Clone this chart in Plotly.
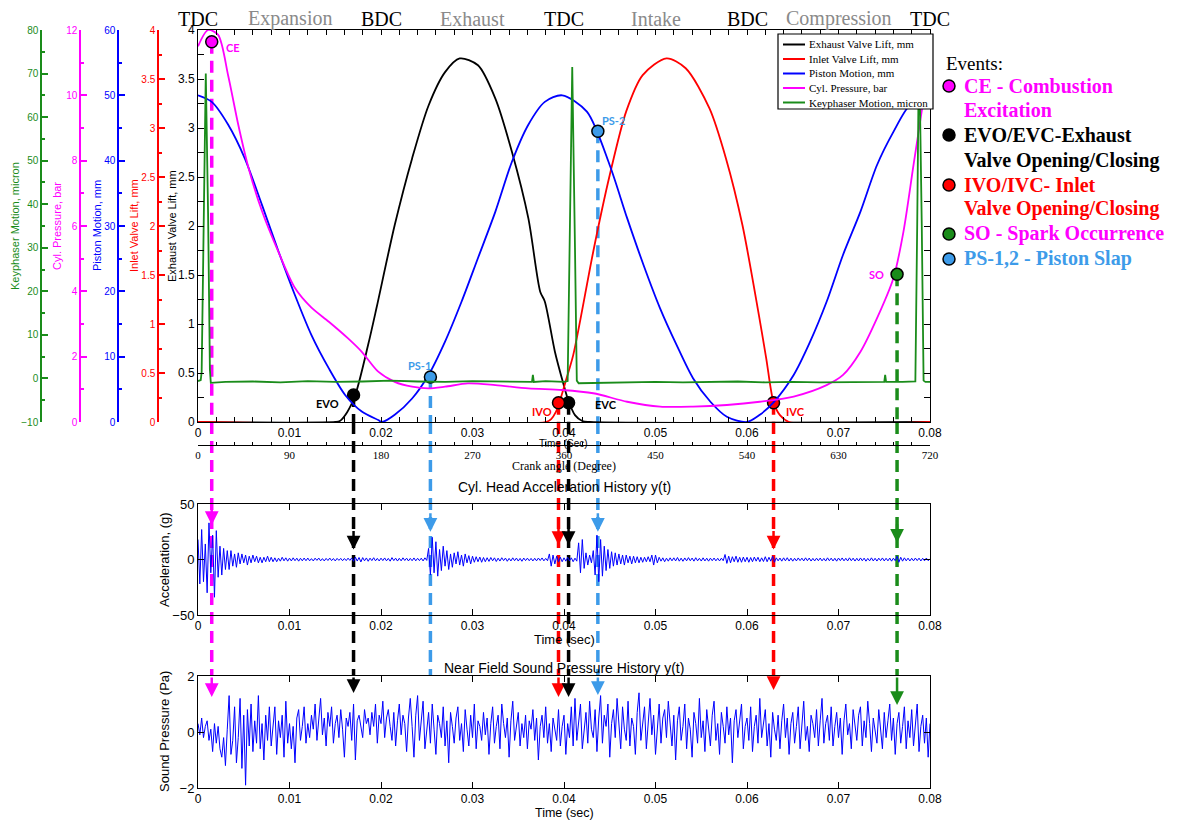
import plotly.graph_objects as go

# ---------------------------------------------------------------- data
# Exhaust valve lift (mm) vs time (s)
exh_t = [0, 0.0150, 0.0155, 0.0163, 0.0172, 0.0186, 0.0195, 0.0215, 0.0234, 0.0252, 0.0270,
         0.0286, 0.0306, 0.0325, 0.0343, 0.0361, 0.0374, 0.0379, 0.0390, 0.0399, 0.0404,
         0.0412, 0.0420, 0.0428, 0.0800]
exh_v = [0, 0, 0.01, 0.10, 0.28, 0.79, 1.16, 2.01, 2.69, 3.23, 3.57,
         3.71, 3.64, 3.30, 2.76, 2.08, 1.33, 1.23, 0.72, 0.40, 0.24,
         0.07, 0.01, 0, 0]

# Inlet valve lift (mm)
inl_t = [0, 0.0380, 0.0386, 0.0391, 0.0395, 0.0402, 0.0410, 0.0418, 0.0432, 0.0450, 0.0468,
         0.0486, 0.0512, 0.0533, 0.0559, 0.0577, 0.0595, 0.0613, 0.0621, 0.0629, 0.0636,
         0.0646, 0.0800]
inl_v = [0, 0, 0.03, 0.10, 0.20, 0.42, 0.68, 1.05, 1.74, 2.52, 3.17,
         3.54, 3.71, 3.61, 3.20, 2.69, 2.01, 1.09, 0.65, 0.20, 0.07,
         0, 0]

# Piston motion (mm)
pis_t = [0, 0.0015, 0.0033, 0.0051, 0.0070, 0.0088, 0.0106, 0.0124, 0.0143, 0.0161, 0.0179,
         0.0197, 0.0201, 0.0215, 0.0234, 0.0252, 0.0270, 0.0288, 0.0306, 0.0325, 0.0343,
         0.0361, 0.0379, 0.0398, 0.0425, 0.0450, 0.0469, 0.0487, 0.0505, 0.0523, 0.0541,
         0.0560, 0.0578, 0.0600, 0.0614, 0.0629, 0.0651, 0.0669, 0.0687, 0.0705, 0.0724,
         0.0742, 0.0760, 0.0778, 0.0800]
pis_v = [50, 49.0, 45.5, 40.4, 33.2, 26.1, 19.4, 13.3, 8.2, 4.1, 1.6,
         0.3, 0, 1.1, 3.6, 7.2, 12.3, 18.4, 25.1, 32.2, 39.8,
         45.5, 49.0, 50.0, 47.5, 39.3, 31.2, 24.0, 17.4, 11.8, 6.7,
         3.1, 0.8, 0, 1.1, 3.0, 7.2, 12.3, 18.4, 25.6, 32.2,
         39.3, 44.4, 48.5, 50]

# Cylinder pressure (bar)
prs_t = [0, 0.0011, 0.0022, 0.0033, 0.0044, 0.0055, 0.0070, 0.0088, 0.0106, 0.0124, 0.0143,
         0.0164, 0.0179, 0.0197, 0.0215, 0.0234, 0.0252, 0.0270, 0.0295, 0.0325, 0.0361,
         0.0398, 0.0432, 0.0469, 0.0505, 0.0541, 0.0578, 0.0614, 0.0651, 0.0687, 0.0705,
         0.0724, 0.0742, 0.0760, 0.0771, 0.0782, 0.0793, 0.0800]
prs_v = [11.5, 12.0, 11.85, 10.6, 9.1, 7.8, 6.45, 5.2, 4.1, 3.5, 3.07,
         2.56, 2.15, 1.54, 1.23, 1.08, 1.03, 1.08, 1.18, 1.13, 1.03,
         0.98, 0.88, 0.62, 0.47, 0.47, 0.52, 0.62, 0.78, 1.13, 1.44,
         2.15, 3.17, 4.40, 5.83, 7.87, 9.9, 11.3]

# Keyphaser motion (micron)
key_t = [0, 0.0003, 0.0004, 0.0006, 0.00085, 0.0011, 0.0013, 0.0014, 0.0030, 0.0060,
         0.0090, 0.0120, 0.0150, 0.0180, 0.0210, 0.0240, 0.0270, 0.0300, 0.0330, 0.0360,
         0.0365, 0.0366, 0.0367, 0.0380, 0.0400, 0.0404, 0.0406, 0.0409, 0.0412, 0.0414,
         0.0416, 0.0440, 0.0470, 0.0500, 0.0530, 0.0560, 0.0590, 0.0620, 0.0650, 0.0680,
         0.0710, 0.0740, 0.0750, 0.0751, 0.0752, 0.0770, 0.0784, 0.0786, 0.0788, 0.0791,
         0.0793, 0.0795, 0.0800]
key_v = [-0.6, -0.4, 1.5, 35, 70, 38, 2, -1.0, -0.8, -0.7,
         -0.9, -0.6, -0.8, -0.7, -0.5, -0.7, -0.8, -0.6, -0.7, -0.8,
         -0.8, 0.8, -0.8, -0.6, -0.8, -0.6, 30, 71.5, 30, -0.5,
         -1.1, -1.0, -0.9, -0.8, -0.9, -0.8, -0.7, -0.9, -0.8, -0.9,
         -0.8, -0.7, -0.8, 0.8, -0.8, -0.8, -0.7, 35, 77.5, 35,
         -0.5, -0.8, -0.8]

# Cylinder head acceleration (g), sampled every 0.0002 s from t = 0
acc_dt = 0.0002
acc_g = [
    18, -22, 27, -20, 14, -30, 33, -12, 22, -34, 26, -16, 12, -14, 10, -9, 8, -9, 8, -6,
    5, -7, 6, -4, 5, -3, 4, -5, 3, -3, 4, -2, 3, -3, 2, -3, 2, -2, 3, -2,
    2, -2, 1.5, -2, 1.2, -1.5, 2, -1.2, 1.5, -1.5, 1.2, -1.3, 1.5, -1.1, 1.2, -1.5, 1.1, -1.2, 1.3, -1.1,
    1.3, -1.2, 0.8, -1.3, 1.2, -0.8, 1.3, -1.2, 0.8, -1.3, 1, -0.9, 1.3, -1, 0.9, -1.3, 1, -0.8, 1, -1.1,
    0.9, -1, 1.2, -0.8, 1.4, -1.6, 2.2, -1.4, 1.8, -2.2, 1.7, -1.2, 1.4, -1.6, 1.2, -1, 1.6, -1.2, 1, -1.3,
    1.2, -1, 1.4, -1.2, 1, -1.5, 1.7, -1, 1.2, -1.4, 1.1, -1.2, 1.5, -0.9, 1.2, -1.3, 1, -1.1, 1.4, -1.2,
    1.1, -1, 1.2, -1.3, 1.5, -0.8, 10, -14, 20, -12, 16, -15, 9, -10, 12, -6, 8, -9, 5, -7,
    6, -4, 7, -5, 4, -6, 5, -3, 3.5, -4, 3, -2.5, 2.5, -2, 2.2, -2.5, 1.8, -2, 1.6, -1.7,
    1.8, -1.2, 1.5, -1.8, 1.2, -1.4, 1.6, -1, 1.3, -1.6, 1, -1.3, 1.5, -1.1, 1.3, -1.4, 1, -1.6, 1.3, -1,
    1.2, -1.1, 1, -1.3, 1.1, -1.2, 1.3, -0.9, 1.4, -1.2, 1, -1.1, 5, -6, 4, -4, 3, -2, 2, -2,
    1.5, -1.5, 2, -1.2, 1.5, -2, 1.2, -1.5, 15, -12, 18, -8, 6, -5, 4, -3, 8, -14, 22, -20,
    18, -15, 12, -10, 9, -8, 7, -6, 6, -5, 5, -4, 4, -5, 4, -3, 3, -4, 3, -3,
    2.5, -3, 2, -2.5, 2, -2, 2.5, -2, 4, -5, 4, -3, 2, -1.5, 1.5, -2, 1.2, -1.5, 1.5, -1.2,
    1.5, -1.3, 1.8, -1.5, 1.2, -1.6, 1.4, -1.2, 1.7, -1.1, 1.3, -1.5, 1.6, -1.2, 1.1, -1.4, 1.5, -1.3, 1.2, -1.5,
    1.2, -1.1, 1.3, -1.2, 1.1, -1.3, 1.2, -1.1, 4.5, -3.5, 3, -3, 2.5, -2, 3, -2.5, 2, -2.5, 2.2, -2,
    2, -2.5, 1.8, -2, 2.2, -1.5, 2, -2, 1.5, -1.8, 2.5, -2, 2, -1.5, 3, -2.5, 1.5, -1.2, 1.3, -1.5,
    1.5, -1.2, 1.6, -1.4, 1.2, -1.5, 1.1, -1.3, 1.4, -1, 1.2, -1.3, 1.5, -1.1, 1.3, -1.4, 1, -1.3, 1.2, -1.1,
    1.3, -1.2, 1, -1.4, 1.5, -1.1, 1.2, -1.3, 1.1, -1.5, 1.3, -1, 1.4, -1.2, 1.1, -1.3, 1.5, -1.1, 1.2, -1.4,
    1.1, -1.3, 1.4, -1.1, 1.2, -1.5, 1, -1.2, 1.5, -1.3, 1.1, -1.4, 1.2, -1, 1.4, -1.3, 1.1, -1.2, 1.3, -1.5,
    1.2, -1.1, 3, -2.5, 2, -1.5, 1.5, -1.2, 1.2, -1.3, 1.1, -1.2, 1.3, -1, 1.2, -1.3, 1.1, -1.2, 1.3, -1.1,
    0.5]

# Near-field sound pressure (Pa), sampled every 0.0002 s from t = 0
snd_dt = 0.0002
snd_pa = [
    0.3, -0.1, 0.5, -0.2, 0.2, 0.4, -0.3, 0.1, -0.7, 0.3, -0.4, 0.2, -0.6, -0.9, -0.2, -1.2, 0.1, 1.3, -0.8, -0.3,
    0.9, -1.1, -0.2, 1.2, -1.3, 0.6, -1.9, 0.8, -0.5, 1.0, -0.7, 0.4, -0.4, 1.3, -0.6, 0.3, -1.0, 0.6, -0.3, 0.9,
    -0.5, 0.2, 0.9, -0.8, 0.4, -0.2, 0.6, -0.9, 1.1, -0.4, 0.3, -0.6, 0.2, -1.1, 0.5, 0.8, -0.3, 0.2, 0.9, -0.4,
    0.3, -0.2, 0.6, 0.1, 1.0, -0.3, 0.4, 1.2, -0.1, 0.5, -0.5, 0.7, 0.2, 0.9, -0.4, 0.3, 0.6, -0.2, 0.8, 0.1,
    -0.9, 0.5, 0.2, 0.7, -0.3, 1.0, -1.0, 0.4, 0.6, 0.1, -0.2, 0.8, 0.3, 0.5, -0.1, 0.7, 0.2, 1.0, -0.4, 0.6,
    0.3, 1.1, -0.2, 0.5, 0.8, 0.2, -0.3, 0.7, -0.5, 0.4, 1.0, -0.1, 0.6, 0.3, -0.7, 0.5, 1.2, 0.2, -0.9, 0.6,
    1.3, -0.3, 0.4, 1.1, -0.6, 0.2, 0.7, -0.4, 1.0, 0.1, -0.8, 0.6, 0.3, -0.2, 0.9, -0.5, 0.4, -1.1, 0.7, 0.2,
    -0.4, 0.5, 0.9, -0.3, 0.3, -0.7, 0.8, 0.1, -0.5, 0.6, -0.2, 1.0, -0.6, 0.4, 0.2, -0.3, 0.7, -0.1, 0.5, -0.8,
    0.3, 0.9, -0.4, 0.2, 0.6, -0.6, 1.0, 0.3, -0.2, 0.5, -0.9, 0.4, 1.1, -0.3, 0.2, 0.7, -0.5, 0.3, -0.2, 0.6,
    -0.6, 0.4, 0.1, 0.8, -0.3, 0.5, -1.0, 0.2, 0.6, -0.2, 0.9, -0.4, 0.3, -0.7, 0.5, 0.1, -0.3, 0.8, -0.5, 0.2,
    0.6, -0.8, 0.3, -0.2, 0.9, -0.5, 1.2, -0.3, 0.4, 1.0, -0.6, 0.2, 0.7, -0.4, 1.1, 0.1, -0.2, 0.8, -0.7, 0.5,
    1.3, -0.4, 0.6, 0.2, 1.0, -0.9, 0.3, 0.8, -0.2, 1.2, 0.4, -0.6, 0.9, 0.1, -0.3, 1.1, -0.5, 0.5, 0.2, -0.8,
    0.7, 1.4, -0.3, 0.4, 0.9, -0.6, 0.2, 1.2, -0.1, 0.6, -0.8, 0.3, 1.0, -0.4, 0.5, 0.8, -0.2, 1.1, 0.3, -0.5,
    0.6, -1.0, 0.4, 0.9, -0.3, 0.2, 1.0, -0.6, 0.5, 0.1, -0.9, 0.7, 0.3, -0.4, 1.2, -0.2, 0.4, -0.7, 0.8, 0.2,
    -0.5, 0.6, 1.1, -0.3, 0.3, -0.8, 0.7, 0.2, -0.4, 0.9, -0.1, 0.5, -1.1, 0.4, 0.8, -0.2, 0.3, 1.0, -0.6, 0.2,
    0.5, -0.3, 0.9, -0.7, 0.2, 0.6, -0.4, 1.2, -0.2, 0.4, 0.8, -0.5, 0.3, -0.9, 0.7, 0.1, -0.3, 0.6, -0.6, 0.4,
    1.0, -0.2, 0.5, -0.8, 0.3, 0.7, -0.4, 0.2, 0.9, -0.6, 0.4, 1.1, -0.3, 0.2, -0.7, 0.6, 0.3, -0.2, 0.8, -0.5,
    0.4, 1.2, -0.4, 0.3, 0.6, -0.3, 0.9, -0.5, 0.2, 0.7, -0.2, 0.5, -0.8, 0.4, 1.0, -0.1, 0.3, -0.6, 0.8, 0.2,
    -0.3, 0.6, 0.9, -0.5, 0.4, -0.2, 1.1, 0.3, -0.7, 0.5, 0.1, -0.4, 0.8, 0.2, -0.6, 0.7, -0.2, 0.4, 1.0, -0.3,
    0.5, -0.8, 0.3, 0.7, -0.4, 0.2, 0.9, -0.6, 0.4, -0.2, 0.8, -0.5, 0.3, 1.0, -0.7, 0.2, 0.6, -0.4, 0.5, -0.9,
    0.3]

# Events
ev_names = ["CE", "EVO", "PS-1", "IVO", "EVC", "PS-2", "IVC", "SO"]
ev_t = [0.0015, 0.0170, 0.0254, 0.0394, 0.0405, 0.0437, 0.0629, 0.0764]
ev_val = [11.64, 0.276, 6.9, 0.197, 0.197, 44.5, 0.197, 4.52]        # on the event's own axis
ev_acc_tip = [31, 9, 25, 13, 13, 25, 9, 15]                            # g
ev_snd_tip = [1.25, 1.39, None, 1.25, 1.25, 1.32, 1.5, 0.96]           # Pa

# Tick labels / texts
time_ticks = [0, 0.01, 0.02, 0.03, 0.04, 0.05, 0.06, 0.07, 0.08]
time_labels = ["0", "0.01", "0.02", "0.03", "0.04", "0.05", "0.06", "0.07", "0.08"]
crank_ticks = [0, 90, 180, 270, 360, 450, 540, 630, 720]
phase_deg = [0, 90, 180, 270, 360, 450, 540, 630, 720]
phase_text = ["TDC", "Expansion", "BDC", "Exhaust", "TDC", "Intake", "BDC", "Compression", "TDC"]
series_names = ["Exhaust Valve Lift, mm", "Inlet Valve Lift, mm", "Piston Motion, mm",
                "Cyl. Pressure, bar", "Keyphaser Motion, micron"]
legend_lines = ["CE - Combustion", "Excitation", "EVO/EVC-Exhaust", "Valve Opening/Closing",
                "IVO/IVC- Inlet", "Valve Opening/Closing", "SO - Spark Occurrence", "PS-1,2 - Piston Slap"]

# ---------------------------------------------------------------- styles / layout
OFF = 8                       # page body margin of the html page
FW, FH = 1182 - OFF, 820 - OFF
def fx(p): return (p - OFF) / FW
def fy(p): return 1 - (p - OFF) / FH

MAGENTA = '#ff00ff'; BLUE = '#0000ff'; RED = '#ff0000'; GREEN = '#1a8c1a'
LBLUE = '#3d9be9'; BLACK = '#000000'; GRAY = '#8a8a8a'
SANS = 'Liberation Sans, Arial, sans-serif'
SERIF = 'Liberation Serif, Times New Roman, serif'
LABEL = 'Lato, Open Sans, sans-serif'

X0, X1 = 198, 930
XC = (X0 + X1) / 2
MAIN_T, MAIN_B = 30, 422
ACC_T, ACC_B = 504, 615
SND_T, SND_B = 676, 788
CRANK_Y = 445

series_col = [BLACK, RED, BLUE, MAGENTA, GREEN]
ev_axis = ['y4', 'y', 'y3', 'y2', 'y', 'y3', 'y2', 'y4']
ev_fill = [MAGENTA, BLACK, LBLUE, RED, BLACK, LBLUE, RED, GREEN]
ev_lblcol = [MAGENTA, BLACK, LBLUE, RED, BLACK, LBLUE, RED, MAGENTA]
ev_shift = [(21, -6), (-26, -9), (-11, 11), (-17, -9), (37, -2), (16, 11), (22, -9), (-21, 0)]
axis_min = {'y': 0, 'y2': 0, 'y3': 0, 'y4': 0, 'y5': -10}

fig = go.Figure()

curves = [(exh_t, exh_v, 'y', 'spline'), (inl_t, inl_v, 'y2', 'spline'), (pis_t, pis_v, 'y3', 'spline'),
          (prs_t, prs_v, 'y4', 'spline'), (key_t, key_v, 'y5', 'linear')]
for (tt, vv, ya, shp), nm, col in zip(curves, series_names, series_col):
    fig.add_trace(go.Scatter(x=tt, y=vv, mode='lines', name=nm, showlegend=False,
                             line=dict(color=col, width=1.8, shape=shp,
                                       smoothing=0.8 if shp == 'spline' else None),
                             xaxis='x', yaxis=ya, hoverinfo='skip'))

# keeps the crank-angle axis alive
fig.add_trace(go.Scatter(x=[crank_ticks[0], crank_ticks[-1]], y=[0, 0], mode='markers',
                         marker=dict(opacity=0), xaxis='x2', yaxis='y', showlegend=False,
                         hoverinfo='skip'))

# event markers
for i in range(len(ev_t)):
    fig.add_trace(go.Scatter(x=[ev_t[i]], y=[ev_val[i]], mode='markers', showlegend=False,
                             marker=dict(size=12, color=ev_fill[i], line=dict(color=BLACK, width=1.5)),
                             xaxis='x', yaxis=ev_axis[i], hoverinfo='skip'))

fig.add_trace(go.Scatter(y=acc_g, x0=0, dx=acc_dt, mode='lines', line=dict(color=BLUE, width=1),
                         xaxis='x3', yaxis='y6', showlegend=False, hoverinfo='skip'))
fig.add_trace(go.Scatter(y=snd_pa, x0=0, dx=snd_dt, mode='lines', line=dict(color=BLUE, width=1),
                         xaxis='x4', yaxis='y7', showlegend=False, hoverinfo='skip'))

shapes, annotations = [], []


def note(x, y, text, size, color=BLACK, family=SANS, angle=0, xanchor='center'):
    annotations.append(dict(xref='paper', yref='paper', x=fx(x), y=fy(y), xanchor=xanchor,
                            yanchor='middle', showarrow=False, text=text, textangle=angle,
                            font=dict(family=family, size=size, color=color)))


DASH = '12px,7px'
for i in range(len(ev_t)):
    c = ev_fill[i]
    shapes.append(dict(type='line', xref='x', yref=ev_axis[i], x0=ev_t[i], x1=ev_t[i],
                       y0=ev_val[i], y1=axis_min[ev_axis[i]], layer='below',
                       line=dict(color=c, width=3.5, dash=DASH)))
    shapes.append(dict(type='line', xref='x', yref='paper', x0=ev_t[i], x1=ev_t[i],
                       y0=fy(MAIN_B), y1=fy(SND_T), layer='below',
                       line=dict(color=c, width=3.5, dash=DASH)))
    annotations.append(dict(xref='x3', yref='y6', x=ev_t[i], y=ev_acc_tip[i], ax=0, ay=-20,
                            showarrow=True, arrowhead=2, arrowsize=1.1, arrowwidth=2.5,
                            arrowcolor=c, text=''))
    if ev_snd_tip[i] is not None:
        annotations.append(dict(xref='x4', yref='y7', x=ev_t[i], y=ev_snd_tip[i],
                                axref='x4', ayref='y7', ax=ev_t[i], ay=2,
                                showarrow=True, arrowhead=2, arrowsize=1.1, arrowwidth=2.5,
                                arrowcolor=c, text=''))
    annotations.append(dict(xref='x', yref=ev_axis[i], x=ev_t[i], y=ev_val[i],
                            xshift=ev_shift[i][0], yshift=ev_shift[i][1], showarrow=False,
                            xanchor='center', yanchor='middle',
                            text='<b>%s</b>' % ev_names[i],
                            font=dict(family=LABEL, size=11, color=ev_lblcol[i])))

for d, txt in zip(phase_deg, phase_text):
    annotations.append(dict(xref='x2', yref='paper', x=d, y=fy(19), xanchor='center',
                            yanchor='middle', showarrow=False, text=txt,
                            font=dict(family=SERIF, size=20,
                                      color=BLACK if txt in ('TDC', 'BDC') else GRAY)))

# axis titles
note(15, 226, 'Keyphaser Motion, micron', 11, GREEN, angle=-90)
note(57, 226, 'Cyl. Pressure, bar', 11, MAGENTA, angle=-90)
note(97, 226, 'Piston Motion, mm', 11, BLUE, angle=-90)
note(134, 226, 'Inlet Valve Lift, mm', 11, RED, angle=-90)
note(172, 226, 'Exhaust Valve Lift, mm', 11, BLACK, angle=-90)
note(XC - 1, 443, 'Time (Sec)', 10)
note(XC, 466, 'Crank angle (Degree)', 12, family=SERIF)
note(XC, 487, 'Cyl. Head Acceleration History y(t)', 14)
note(164, 560, 'Acceleration, (g)', 13, angle=-90)
note(XC, 639, 'Time (sec)', 13)
note(XC, 668, 'Near Field Sound Pressure History y(t)', 14)
note(164, 732, 'Sound Pressure (Pa)', 13, angle=-90)
note(XC, 812.5, 'Time (sec)', 12.5)

# series legend box (top right of the main plot)
LG_L, LG_R, LG_T, LG_B = 778, 933, 34, 109
shapes.append(dict(type='rect', xref='paper', yref='paper', x0=fx(LG_L), x1=fx(LG_R),
                   y0=fy(LG_B), y1=fy(LG_T), fillcolor='white', line=dict(color=BLACK, width=1.2)))
for k, (nm, col) in enumerate(zip(series_names, series_col)):
    yy = 44.5 + 14.5 * k
    shapes.append(dict(type='line', xref='paper', yref='paper', x0=fx(783), x1=fx(805),
                       y0=fy(yy), y1=fy(yy), line=dict(color=col, width=2)))
    note(807, yy, nm, 11, BLACK, family=SERIF, xanchor='left')

# events legend
note(944, 63, 'Events:', 19, BLACK, family=SERIF, xanchor='left')
leg_y = [86, 110, 135, 160, 185, 209, 234, 259]
leg_col = [MAGENTA, MAGENTA, BLACK, BLACK, RED, RED, MAGENTA, LBLUE]
for yy, txt, c in zip(leg_y, legend_lines, leg_col):
    note(962, yy, '<b>%s</b>' % txt, 20, c, family=SERIF, xanchor='left')
dot_y = [86, 135, 185, 234, 259]
dot_col = [MAGENTA, BLACK, RED, GREEN, LBLUE]
for yy, c in zip(dot_y, dot_col):
    shapes.append(dict(type='circle', xref='paper', yref='paper', x0=fx(943), x1=fx(955),
                       y0=fy(yy + 6), y1=fy(yy - 6), fillcolor=c,
                       line=dict(color=BLACK, width=1.5)))


def side_axis(pos, rng, dtick, minor, color):
    return dict(overlaying='y', anchor='free', position=fx(pos), side='left', range=rng,
                tick0=rng[0], dtick=dtick, showline=True, linecolor=color, linewidth=1.5,
                ticks='inside', ticklen=6, tickwidth=1.5, tickcolor=color, automargin=False,
                minor=dict(dtick=minor, ticks='inside', ticklen=3, tickcolor=color, showgrid=False),
                tickfont=dict(family=SANS, size=10, color=color),
                showgrid=False, zeroline=False, fixedrange=True)


time_axis = dict(range=[0, 0.08], tickvals=time_ticks, ticktext=time_labels, showline=True,
                 linecolor=BLACK, linewidth=1, mirror='allticks', ticks='inside', ticklen=6,
                 tickcolor=BLACK, showgrid=False, zeroline=False, fixedrange=True, automargin=False,
                 domain=[fx(X0), fx(X1)], tickfont=dict(family=SANS, size=12, color=BLACK))

fig.update_layout(
    width=FW, height=FH, margin=dict(l=0, r=0, t=0, b=0, pad=0), autosize=False,
    paper_bgcolor='white', plot_bgcolor='white', hovermode=False, showlegend=False,
    xaxis=dict(domain=[fx(X0), fx(X1)], range=[0, 0.08], anchor='y', tickvals=time_ticks,
               ticktext=time_labels, showline=True, linecolor=BLACK, linewidth=1,
               mirror='allticks', ticks='inside', ticklen=5, tickcolor=BLACK, automargin=False,
               minor=dict(dtick=0.002, ticks='inside', ticklen=3, tickcolor=BLACK, showgrid=False),
               tickfont=dict(family=SANS, size=12, color=BLACK),
               showgrid=False, zeroline=False, fixedrange=True),
    xaxis2=dict(overlaying='x', anchor='free', position=fy(CRANK_Y), side='bottom',
                range=[0, 720], tickvals=crank_ticks, showline=True, linecolor=BLACK, linewidth=1,
                ticks='inside', ticklen=5, tickcolor=BLACK, automargin=False,
                minor=dict(dtick=18, ticks='inside', ticklen=3, tickcolor=BLACK, showgrid=False),
                tickfont=dict(family=SERIF, size=11, color=BLACK),
                showgrid=False, zeroline=False, fixedrange=True),
    yaxis=dict(domain=[fy(MAIN_B), fy(MAIN_T)], range=[0, 4], anchor='x', dtick=0.5,
               showline=True, linecolor=BLACK, linewidth=1, mirror='allticks', ticks='inside',
               ticklen=6, tickcolor=BLACK, automargin=False,
               minor=dict(dtick=0.25, ticks='inside', ticklen=3, tickcolor=BLACK, showgrid=False),
               tickfont=dict(family=SANS, size=12, color=BLACK),
               showgrid=False, zeroline=False, fixedrange=True),
    yaxis2=side_axis(158, [0, 4], 0.5, 0.25, RED),
    yaxis3=side_axis(118, [0, 60], 10, 5, BLUE),
    yaxis4=side_axis(80, [0, 12], 2, 1, MAGENTA),
    yaxis5=side_axis(41, [-10, 80], 10, 5, GREEN),
    xaxis3=dict(time_axis, anchor='y6'),
    yaxis6=dict(domain=[fy(ACC_B), fy(ACC_T)], range=[-50, 50], tickvals=[-50, 0, 50], anchor='x3',
                showline=True, linecolor=BLACK, mirror='allticks', ticks='inside', ticklen=6,
                tickcolor=BLACK, tickfont=dict(family=SANS, size=13, color=BLACK), automargin=False,
                showgrid=False, zeroline=False, fixedrange=True),
    xaxis4=dict(time_axis, anchor='y7'),
    yaxis7=dict(domain=[fy(SND_B), fy(SND_T)], range=[-2, 2], tickvals=[-2, 0, 2], anchor='x4',
                showline=True, linecolor=BLACK, mirror='allticks', ticks='inside', ticklen=6,
                tickcolor=BLACK, tickfont=dict(family=SANS, size=13, color=BLACK), automargin=False,
                showgrid=False, zeroline=False, fixedrange=True),
    shapes=shapes, annotations=annotations,
)

fig.write_html("out.html")
